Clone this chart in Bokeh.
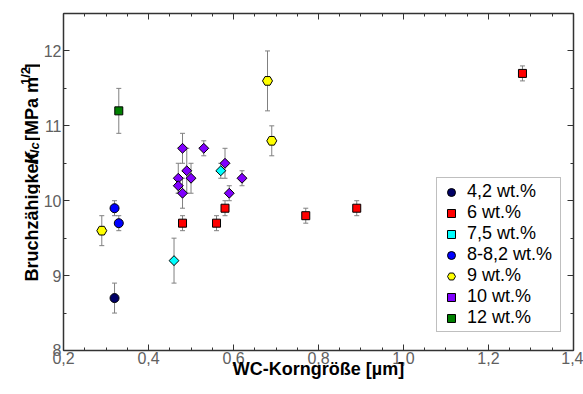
import math
from bokeh.plotting import figure
from bokeh.layouts import row
from bokeh.core.properties import value
from bokeh.models import (Range1d, LinearAxis, FixedTicker, CustomJSTickFormatter,
                          Whisker, ColumnDataSource, Legend, LegendItem, TeeHead)
from bokeh.embed import file_html
from bokeh.resources import INLINE

# ---------------- data ----------------
series_labels = ["4,2 wt.%", "6 wt.%", "7,5 wt.%", "8-8,2 wt.%", "9 wt.%", "10 wt.%", "12 wt.%"]

x_42 = [0.32]
y_42 = [8.7]
e_42 = [0.2]

x_6 = [0.48, 0.56, 0.58, 0.77, 0.89, 1.28]
y_6 = [9.7, 9.7, 9.9, 9.8, 9.9, 11.7]
e_6 = [0.1, 0.1, 0.1, 0.1, 0.1, 0.1]

x_75 = [0.46, 0.57]
y_75 = [9.2, 10.4]
e_75 = [0.3, 0.1]

x_8 = [0.32, 0.33]
y_8 = [9.9, 9.7]
e_8 = [0.1, 0.1]

x_9 = [0.29, 0.68, 0.69]
y_9 = [9.6, 11.6, 10.8]
e_9 = [0.2, 0.4, 0.2]

x_10 = [0.47, 0.47, 0.48, 0.48, 0.49, 0.50, 0.53, 0.58, 0.59, 0.62]
y_10 = [10.3, 10.2, 10.7, 10.1, 10.4, 10.3, 10.7, 10.5, 10.1, 10.3]
e_10 = [0.2, 0.1, 0.2, 0.2, 0.3, 0.2, 0.1, 0.2, 0.1, 0.1]

x_12 = [0.33]
y_12 = [11.2]
e_12 = [0.3]

x_ticks = [0.2, 0.4, 0.6, 0.8, 1.0, 1.2, 1.4]
y_ticks = [8, 9, 10, 11, 12]

# ---------------- layout ----------------
H = 386
LW = 40            # width of the strip that carries the y title
MW = 543           # width of the main figure
ML, MR, MT, MB = 20, 10, 13, 36
X0, X1 = 0.2, 1.4
Y0, Y1 = 8.0, 12.5
FONT = "Liberation Sans"

p = figure(width=MW, height=H, output_backend="svg", toolbar_location=None,
           x_range=Range1d(X0 - 1e-4, X1 + 1e-4), y_range=Range1d(Y0 - 1e-4, Y1),
           min_border_left=ML, min_border_right=MR, min_border_top=MT,
           min_border_bottom=MB, background_fill_color="white",
           border_fill_color="white", outline_line_color=None)
p.grid.visible = False

xfmt = CustomJSTickFormatter(code="return tick.toFixed(1).replace('.', ',');")
yfmt = CustomJSTickFormatter(code="return tick.toFixed(0);")
blank = CustomJSTickFormatter(code="return '';")

x_minor = [round(0.2 + 0.05 * i, 2) for i in range(25)]
y_minor = [8 + 0.5 * i for i in range(10)]


def style_axis(ax, show_labels):
    ax.axis_line_color = "#333333"
    ax.axis_line_width = 1.5
    ax.major_tick_line_color = "#333333"
    ax.minor_tick_line_color = "#333333"
    ax.major_tick_in = 6
    ax.major_tick_out = 0
    ax.minor_tick_in = 3
    ax.minor_tick_out = 0
    ax.major_label_text_font = FONT
    ax.major_label_text_color = "#606060"
    if show_labels:
        ax.major_label_text_font_size = "16px"
    else:
        ax.major_label_text_font_size = "0px"
        ax.major_label_standoff = 0


xa = p.xaxis[0]
ya = p.yaxis[0]
xa.ticker = FixedTicker(ticks=x_ticks, minor_ticks=x_minor)
ya.ticker = FixedTicker(ticks=y_ticks, minor_ticks=y_minor)
xa.formatter = xfmt
ya.formatter = yfmt
style_axis(xa, True)
style_axis(ya, True)
xa.major_label_standoff = 1
ya.major_label_standoff = 2
xa.axis_label = "WC-Korngröße [µm]"
xa.axis_label_text_font = FONT
xa.axis_label_text_font_size = "18px"
xa.axis_label_text_font_style = "bold"
xa.axis_label_text_color = "black"
xa.axis_label_standoff = -8

top = LinearAxis(ticker=FixedTicker(ticks=x_ticks, minor_ticks=x_minor), formatter=blank)
right = LinearAxis(ticker=FixedTicker(ticks=y_ticks, minor_ticks=y_minor), formatter=blank)
style_axis(top, False)
style_axis(right, False)
p.add_layout(top, "above")
p.add_layout(right, "right")

# ---------------- error bars ----------------
groups = [
    (x_42, y_42, e_42, "circle", "#000066", 9, 0.0),
    (x_6, y_6, e_6, "square", "#ff0000", 8, 0.0),
    (x_75, y_75, e_75, "square", "#00ffff", 7, math.pi / 4),
    (x_8, y_8, e_8, "circle", "#0000ff", 9, 0.0),
    (x_9, y_9, e_9, "hex", "#ffff00", 10, 0.0),
    (x_10, y_10, e_10, "square", "#8000ff", 7, math.pi / 4),
    (x_12, y_12, e_12, "square", "#008000", 8, 0.0),
]

wx, wl, wu = [], [], []
for xs, ys, es, *_ in groups:
    for xv, yv, ev in zip(xs, ys, es):
        wx.append(xv)
        wl.append(yv - ev)
        wu.append(yv + ev)
wsrc = ColumnDataSource(dict(x=wx, lower=wl, upper=wu))
wh = Whisker(source=wsrc, base="x", lower="lower", upper="upper",
             line_color="#808080", line_width=1,
             lower_head=TeeHead(size=5, line_color="#808080", line_width=1),
             upper_head=TeeHead(size=5, line_color="#808080", line_width=1))
p.add_layout(wh)

# ---------------- markers ----------------
items = []
for (xs, ys, es, marker, color, size, ang), lab in zip(groups, series_labels):
    r = p.scatter(x=xs, y=ys, marker=marker, size=size, angle=ang,
                  fill_color=color, line_color="black", line_width=1)
    items.append(LegendItem(label=lab, renderers=[r]))

legend = Legend(items=items, location=(373, 18), margin=0, padding=3, spacing=0,
                glyph_width=22, glyph_height=20, label_height=20, label_width=90,
                label_standoff=5, label_text_font=FONT, label_text_font_size="18px",
                label_text_color="black", border_line_color="#808080",
                border_line_width=1, background_fill_color="white",
                background_fill_alpha=1.0)
p.add_layout(legend)

# ---------------- y title strip (real text, pixel coordinates) ----------------
t = figure(width=LW, height=H, output_backend="svg", toolbar_location=None,
           x_range=Range1d(0, LW), y_range=Range1d(0, H),
           x_axis_location=None, y_axis_location=None,
           min_border=0, outline_line_color=None,
           background_fill_color="white", border_fill_color="white")
t.grid.visible = False

ylab_parts = [
    # text, font size, style, baseline x, start y (pixels from top)
    ("Bruchzähigkeit", "18px", "bold", 31, 307),
    ("K", "18px", "bold italic", 31, 173),
    ("Ic", "13px", "bold italic", 33.5, 160),
    ("[MPa m", "18px", "bold", 31, 146),
    ("1/2", "13px", "bold", 24.5, 82),
    ("]", "18px", "bold", 31, 64),
]
for txt, fs, st, bx, sy in ylab_parts:
    t.text(x=[bx], y=[H - sy], text=[txt], angle=math.pi / 2,
           text_font=value(FONT), text_font_size=value(fs),
           text_font_style=st, text_align="left",
           text_baseline="alphabetic", text_color="black")

layout = row(t, p, spacing=0)
open("out.html", "w").write(file_html(layout, INLINE))
